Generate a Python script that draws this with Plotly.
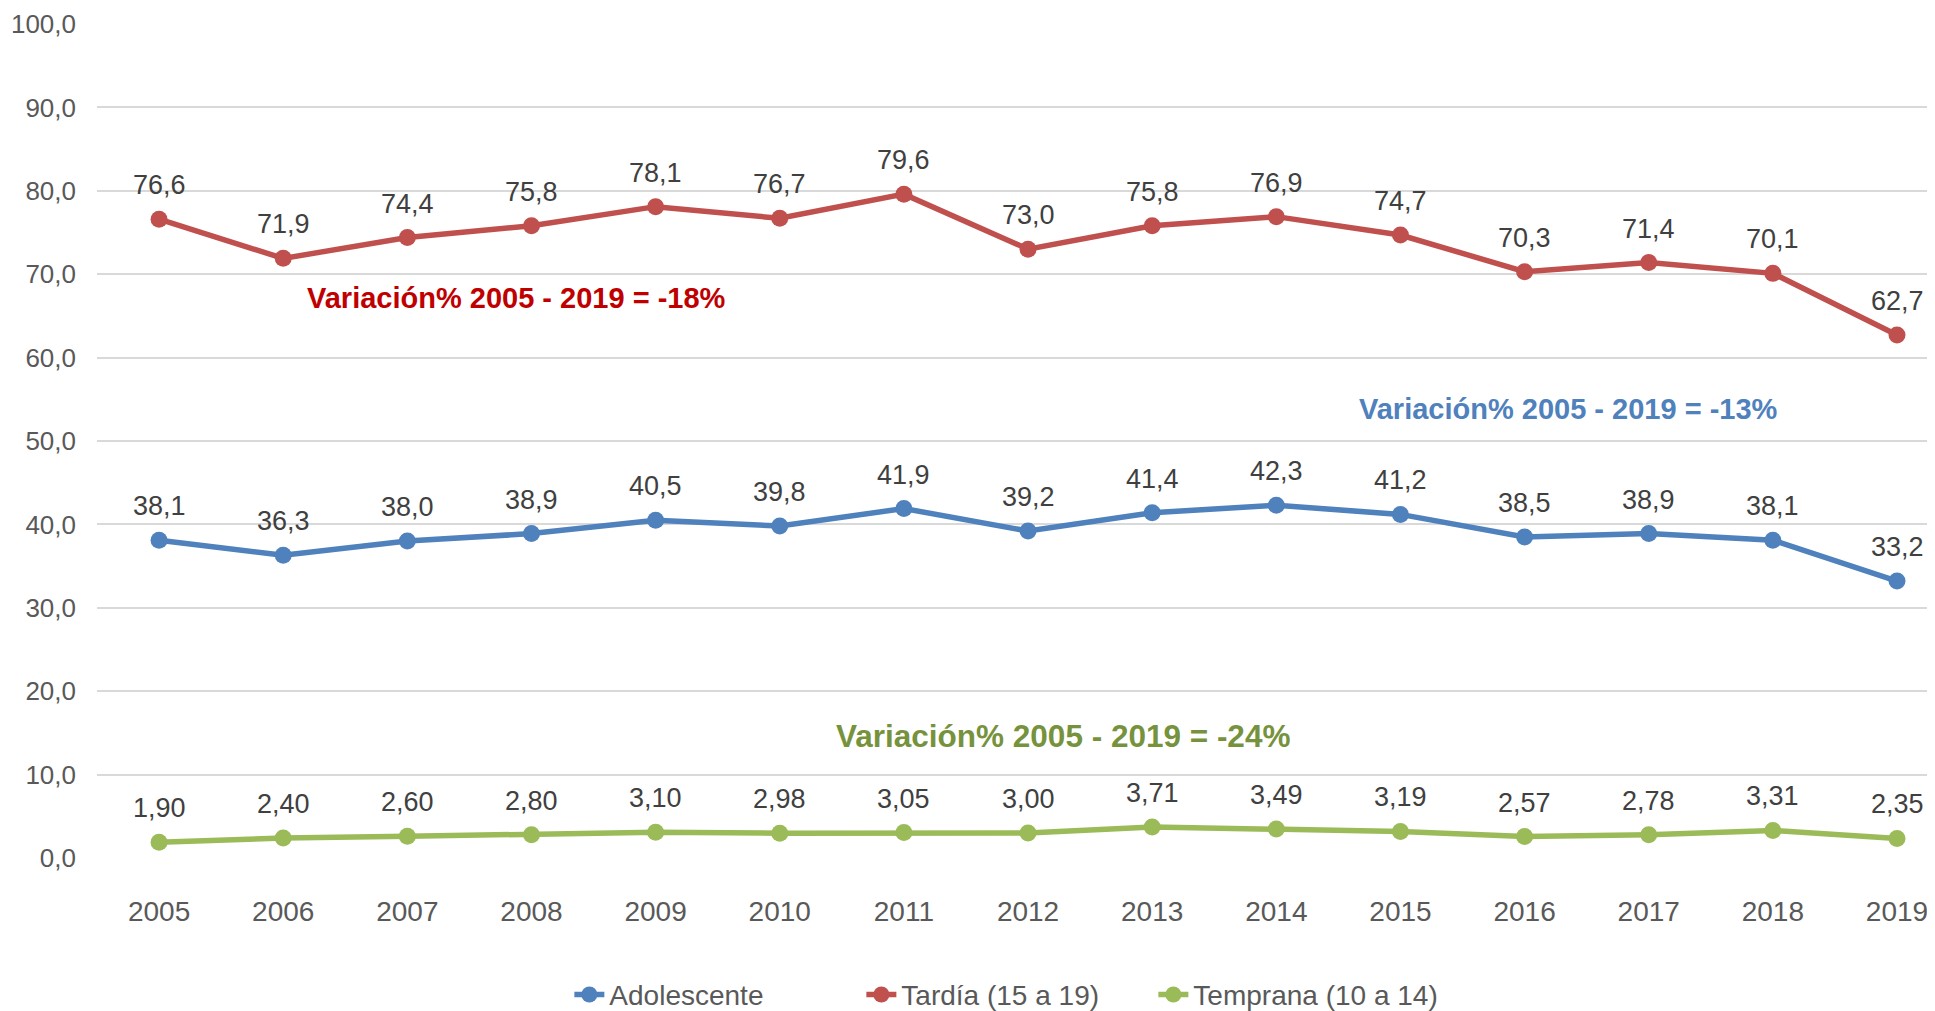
import plotly.graph_objects as go

years = list(range(2005, 2020))
adolescente = [38.1, 36.3, 38.0, 38.9, 40.5, 39.8, 41.9, 39.2, 41.4, 42.3, 41.2, 38.5, 38.9, 38.1, 33.2]
tardia = [76.6, 71.9, 74.4, 75.8, 78.1, 76.7, 79.6, 73.0, 75.8, 76.9, 74.7, 70.3, 71.4, 70.1, 62.7]
temprana = [1.90, 2.40, 2.60, 2.80, 3.10, 2.98, 3.05, 3.00, 3.71, 3.49, 3.19, 2.57, 2.78, 3.31, 2.35]
y_ticks = [0, 10, 20, 30, 40, 50, 60, 70, 80, 90, 100]

series = [
    ("Adolescente", adolescente, "#4F81BD", 1),
    ("Tardía (15 a 19)", tardia, "#C0504D", 1),
    ("Temprana (10 a 14)", temprana, "#9BBB59", 2),
]

FONT = "Liberation Sans, Arial, sans-serif"

fig = go.Figure()
annotations = []
for name, vals, color, dec in series:
    fig.add_trace(go.Scatter(
        x=years, y=vals, name=name, mode="lines+markers",
        line=dict(color=color, width=5.5),
        marker=dict(color=color, size=17),
    ))
    for xv, yv in zip(years, vals):
        annotations.append(dict(
            x=xv, y=yv, text=f"{yv:.{dec}f}".replace(".", ","),
            showarrow=False, yshift=34,
            font=dict(family=FONT, size=27, color="#404040"),
        ))

annotations += [
    dict(x=2007.88, y=67.1, text="<b>Variación% 2005 - 2019 = -18%</b>", showarrow=False,
         font=dict(family=FONT, size=29, color="#C00000")),
    dict(x=2016.35, y=53.8, text="<b>Variación% 2005 - 2019 = -13%</b>", showarrow=False,
         font=dict(family=FONT, size=29, color="#4F81BD")),
    dict(x=2012.28, y=14.6, text="<b>Variación% 2005 - 2019 = -24%</b>", showarrow=False,
         font=dict(family=FONT, size=31.5, color="#76923C")),
]

fig.update_layout(
    width=1927, height=1003,
    margin=dict(l=89, r=0, t=16, b=153, autoexpand=False),
    paper_bgcolor="white", plot_bgcolor="white",
    font=dict(family=FONT, size=27, color="#595959"),
    annotations=annotations,
    showlegend=True,
    legend=dict(orientation="h", x=0.257, xanchor="left", y=-0.164, yanchor="middle",
                font=dict(family=FONT, size=28, color="#595959"),
                entrywidth=247, entrywidthmode="pixels"),
    xaxis=dict(range=[2004.5, 2019.306], tickmode="array", tickvals=years,
               ticktext=[str(y) for y in years], showgrid=False, zeroline=False,
               showline=False, ticks="", ticklabelstandoff=34,
               tickfont=dict(family=FONT, size=28, color="#595959")),
    yaxis=dict(range=[0, 100], tickmode="array", tickvals=y_ticks,
               ticktext=[f"{v:.1f}".replace(".", ",") for v in y_ticks],
               showgrid=True, gridcolor="#D9D9D9", gridwidth=2, zeroline=False,
               showline=False, ticks="", ticklabelstandoff=20,
               tickfont=dict(family=FONT, size=26, color="#595959")),
)

fig.write_html("out.html")
